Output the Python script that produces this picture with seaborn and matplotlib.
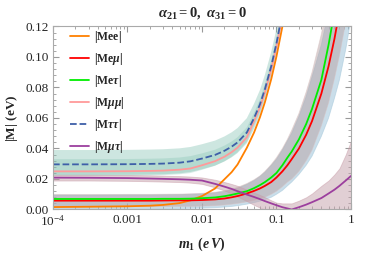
import numpy as np
import pandas as pd
import matplotlib
matplotlib.use("Agg")
import matplotlib.pyplot as plt
import seaborn as sns
from matplotlib.ticker import AutoMinorLocator

# ==========================================
# Data
# ==========================================

m1 = [1e-4, 3e-4, 1e-3, 2e-3, 3e-3, 5e-3, 7e-3, 0.01, 0.015, 0.02,
      0.025, 0.03, 0.04, 0.05, 0.06, 0.07, 0.085, 0.1, 0.12, 0.14,
      0.16, 0.2, 0.25, 0.3, 0.4, 0.5, 0.6, 0.7, 0.85, 1.0]

mee = [0.0016, 0.0018, 0.0021, 0.0025, 0.003, 0.0042, 0.006, 0.0088, 0.0138, 0.0198,
       0.0245, 0.0295, 0.0405, 0.0505, 0.0605, 0.0705, 0.0855, 0.1005, 0.12, 0.14,
       0.16, 0.2, 0.25, 0.3, 0.4, 0.5, 0.6, 0.7, 0.85, 1.0]
memu = [0.0058, 0.0058, 0.0058, 0.0058, 0.0059, 0.006, 0.006, 0.0062, 0.0066, 0.0072,
        0.008, 0.0088, 0.0105, 0.0122, 0.0138, 0.0155, 0.018, 0.021, 0.025, 0.029,
        0.033, 0.040, 0.049, 0.058, 0.076, 0.094, 0.112, 0.13, 0.157, 0.185]
metau = [0.0069, 0.0069, 0.0069, 0.0069, 0.007, 0.007, 0.0071, 0.0074, 0.0079, 0.0087,
         0.0096, 0.0105, 0.012, 0.014, 0.016, 0.018, 0.021, 0.024, 0.029, 0.034,
         0.038, 0.046, 0.056, 0.066, 0.085, 0.108, 0.130, 0.152, 0.18, 0.215]
mmumu = [0.025, 0.025, 0.0251, 0.0253, 0.0255, 0.0261, 0.0269, 0.029, 0.0317, 0.0346,
         0.0376, 0.0406, 0.0474, 0.058, 0.067, 0.077, 0.092, 0.107, 0.127, 0.147,
         0.167, 0.207, 0.257, 0.307, 0.407, 0.507, 0.607, 0.707, 0.857, 1.007]
mtautau = [0.0296, 0.0296, 0.0297, 0.0299, 0.0301, 0.0307, 0.0316, 0.0334, 0.0358, 0.0385,
           0.0412, 0.044, 0.0505, 0.060, 0.069, 0.079, 0.094, 0.109, 0.129, 0.149,
           0.169, 0.209, 0.259, 0.309, 0.409, 0.509, 0.609, 0.709, 0.859, 1.009]
mmutau = [0.0209, 0.0208, 0.0206, 0.0203, 0.0201, 0.0198, 0.0195, 0.019, 0.0168, 0.015,
          0.0135, 0.012, 0.0098, 0.0082, 0.0068, 0.0055, 0.004, 0.0028, 0.0015, 0.0007,
          0.0, 0.0015, 0.0032, 0.0048, 0.0075, 0.0105, 0.013, 0.0155, 0.019, 0.022]

# 3 sigma bands
tt_lo = [0.0226, 0.0226, 0.0227, 0.0229, 0.0231, 0.0237, 0.0246, 0.0264, 0.0288, 0.0315,
         0.0342, 0.037, 0.0435, 0.053, 0.062, 0.072, 0.087, 0.102, 0.122, 0.142,
         0.162, 0.202, 0.252, 0.302, 0.402, 0.502, 0.602, 0.702, 0.852, 1.002]
tt_hi = [0.039, 0.039, 0.0391, 0.0393, 0.0395, 0.0401, 0.041, 0.0428, 0.0452, 0.0479,
         0.0506, 0.0534, 0.0599, 0.0694, 0.0784, 0.0884, 0.1034, 0.1184, 0.1384, 0.1584,
         0.1784, 0.2184, 0.2684, 0.3184, 0.4184, 0.5184, 0.6184, 0.7184, 0.8684, 1.0184]
mm_lo = [0.022, 0.022, 0.0221, 0.0223, 0.0225, 0.0231, 0.0239, 0.026, 0.0287, 0.0316,
         0.0346, 0.0376, 0.0444, 0.055, 0.064, 0.074, 0.089, 0.104, 0.124, 0.144,
         0.164, 0.204, 0.254, 0.304, 0.404, 0.504, 0.604, 0.704, 0.854, 1.004]
mm_hi = [0.033, 0.033, 0.0331, 0.0333, 0.0335, 0.0341, 0.035, 0.0368, 0.0392, 0.0419,
         0.0446, 0.0474, 0.0539, 0.0634, 0.0724, 0.0824, 0.0974, 0.1124, 0.1324, 0.1524,
         0.1724, 0.2124, 0.2624, 0.3124, 0.4124, 0.5124, 0.6124, 0.7124, 0.8624, 1.0124]
et_lo = [0.0018, 0.0018, 0.0018, 0.0018, 0.0019, 0.002, 0.002, 0.0022, 0.0025, 0.003,
         0.0035, 0.004, 0.005, 0.006, 0.007, 0.008, 0.01, 0.012, 0.015, 0.018,
         0.02, 0.025, 0.032, 0.039, 0.055, 0.07, 0.086, 0.101, 0.123, 0.145]
et_hi = [0.0098, 0.0098, 0.0099, 0.0099, 0.01, 0.0101, 0.0103, 0.0106, 0.0113, 0.0122,
         0.0133, 0.0145, 0.017, 0.0195, 0.022, 0.025, 0.0295, 0.034, 0.04, 0.046,
         0.052, 0.063, 0.077, 0.09, 0.115, 0.14, 0.165, 0.19, 0.225, 0.26]
em_lo = [0.0005, 0.0005, 0.0005, 0.0005, 0.0006, 0.0007, 0.0008, 0.0009, 0.0012, 0.0016,
         0.002, 0.0025, 0.0035, 0.0045, 0.0055, 0.0065, 0.008, 0.01, 0.0125, 0.0155,
         0.018, 0.023, 0.029, 0.035, 0.048, 0.06, 0.073, 0.085, 0.105, 0.125]
em_hi = [0.0095, 0.0095, 0.0096, 0.0096, 0.0097, 0.0098, 0.01, 0.0103, 0.011, 0.0119,
         0.013, 0.014, 0.0165, 0.019, 0.0218, 0.0245, 0.029, 0.033, 0.039, 0.045,
         0.05, 0.061, 0.074, 0.087, 0.108, 0.13, 0.155, 0.18, 0.215, 0.25]
mt_lo = [0.019, 0.019, 0.0188, 0.0185, 0.0183, 0.018, 0.0176, 0.0168, 0.0145, 0.0125,
         0.0105, 0.0085, 0.0055, 0.003, 0.0012, 0.0, 0.0, 0.0, 0.0, 0.0,
         0.0, 0.0, 0.0, 0.0, 0.0, 0.0, 0.0, 0.0, 0.0, 0.0]
mt_hi = [0.0228, 0.0228, 0.0226, 0.0224, 0.0222, 0.0219, 0.0216, 0.021, 0.0195, 0.018,
         0.0167, 0.0155, 0.013, 0.011, 0.0095, 0.008, 0.006, 0.0045, 0.004, 0.004,
         0.004, 0.0058, 0.008, 0.0105, 0.0155, 0.019, 0.023, 0.027, 0.036, 0.045]

xtick_vals = [1e-4, 1e-3, 1e-2, 1e-1, 1]
xtick_labels = [r"$\mathregular{10^{-4}}$", "0.001", "0.01", "0.1", "1"]
ytick_vals = [0.0, 0.02, 0.04, 0.06, 0.08, 0.10, 0.12]

# ==========================================
# Style
# ==========================================

sns.set_style("ticks")
plt.rcParams["font.family"] = ["Liberation Serif", "DejaVu Serif"]
plt.rcParams["mathtext.fontset"] = "custom"
plt.rcParams["mathtext.rm"] = "Liberation Serif:bold"
plt.rcParams["mathtext.bf"] = "Liberation Serif:bold"
plt.rcParams["mathtext.it"] = "Liberation Serif:italic:bold"

fig = plt.figure(figsize=(3.74, 2.54), dpi=100)
ax = fig.add_axes([0.1417, 0.1752, 0.7968, 0.7205])

# bands
ax.fill_between(m1, tt_lo, tt_hi, color="#7dbfae", alpha=0.38, lw=0)
ax.fill_between(m1, mm_lo, mm_hi, color="#7dbfae", alpha=0.3, lw=0)
ax.fill_between(m1, em_lo, em_hi, color="#96bfd6", alpha=0.5, lw=0.6, edgecolor="#9cc3d8")
ax.fill_between(m1, et_lo, et_hi, color="#b8a4a6", alpha=0.5, lw=0.6, edgecolor="#d8c0c0")
ax.fill_between(m1, mt_lo, mt_hi, color="#c4a0aa", alpha=0.5, lw=0.6, edgecolor="#c89aa6")

df = pd.DataFrame({"m1": m1, "mee": mee, "memu": memu, "metau": metau,
                   "mmumu": mmumu, "mtautau": mtautau, "mmutau": mmutau})

lines = [
    ("mee", r"$\mathrm{|Mee|}$", "#ff8000", "-"),
    ("memu", r"$\mathrm{|Me}\mu\mathrm{|}$", "#ff0000", "-"),
    ("metau", r"$\mathrm{|Me}\tau\mathrm{|}$", "#00ee00", "-"),
    ("mmumu", r"$\mathrm{|M}\mu\mu\mathrm{|}$", "#ff9a9a", "-"),
    ("mtautau", r"$\mathrm{|M}\tau\tau\mathrm{|}$", "#3e5fa8", "--"),
    ("mmutau", r"$\mathrm{|M}\mu\tau\mathrm{|}$", "#9c3f9e", "-"),
]
for col, lab, c, ls in lines:
    sns.lineplot(data=df, x="m1", y=col, ax=ax, color=c, linestyle=ls, lw=1.3, label=lab)

ax.set_xscale("log")
ax.set_xlim(1e-4, 1)
ax.set_ylim(0, 0.12)
ax.set_xticks(xtick_vals)
ax.set_xticklabels(xtick_labels)
ax.set_yticks(ytick_vals)
ax.set_yticklabels([f"{v:.2f}" for v in ytick_vals])
ax.yaxis.set_minor_locator(AutoMinorLocator(5))

ax.tick_params(which="both", direction="in", top=True, right=True, color="#999999",
               labelsize=9.5, pad=3)
ax.tick_params(which="major", length=4)
ax.tick_params(which="minor", length=2)
for s in ax.spines.values():
    s.set_color("#aaaaaa")
    s.set_linewidth(0.8)

ax.set_xlabel(r"$m_1\ \mathrm{(}e\,V\mathrm{)}$", fontsize=10, labelpad=5)
ax.set_ylabel(r"$\mathrm{|M|\ (eV)}$", fontsize=9.5, labelpad=4)
ax.set_title(r"$\alpha_{21}\mathrm{=0,}\ \alpha_{31}\mathrm{=0}$", fontsize=10.5, pad=7)

leg = ax.legend(loc="upper left", frameon=False, fontsize=8.5, labelspacing=0.5,
                handlelength=1.6, handletextpad=0.45, borderaxespad=0.3,
                bbox_to_anchor=(0.03, 1.03))

fig.savefig("out.png", dpi=100)
